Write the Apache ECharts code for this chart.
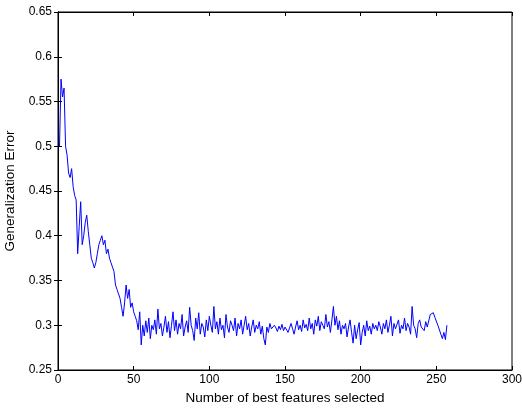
<!DOCTYPE html>
<html>
<head>
<meta charset="utf-8">
<script src="https://cdn.jsdelivr.net/npm/echarts@6/dist/echarts.min.js"></script>
<style>html,body{margin:0;padding:0;background:#fff;}#c{width:522px;height:411px;}</style>
</head>
<body>
<div id="c"></div>
<script>
var xTicks = [0, 50, 100, 150, 200, 250, 300];
var yTicks = [0.25, 0.3, 0.35, 0.4, 0.45, 0.5, 0.55, 0.6, 0.65];
var errEarly = [
  0.50, 0.575, 0.555, 0.565, 0.50, 0.49, 0.47, 0.465, 0.475, 0.455,
  0.445, 0.44, 0.38, 0.41, 0.438, 0.39, 0.40, 0.415, 0.423, 0.405,
  0.39, 0.375, 0.37, 0.364, 0.37, 0.38, 0.39, 0.395, 0.40, 0.39,
  0.395, 0.38, 0.385, 0.375, 0.37, 0.365, 0.36, 0.345, 0.34, 0.335,
  0.33, 0.32, 0.31, 0.325, 0.345, 0.33, 0.34, 0.32, 0.325, 0.315,
  0.31, 0.305, 0.295, 0.315, 0.278
];
var errLate = [
  0.300, 0.288, 0.305, 0.292, 0.308, 0.285, 0.300, 0.295, 0.306, 0.290,
  0.318, 0.296, 0.302, 0.288, 0.298, 0.310, 0.292, 0.304, 0.286, 0.300,
  0.315, 0.294, 0.306, 0.290, 0.302, 0.296, 0.312, 0.288, 0.298, 0.305,
  0.292, 0.320, 0.300, 0.294, 0.283, 0.308, 0.296, 0.314, 0.290, 0.302,
  0.298, 0.287, 0.306, 0.294, 0.310, 0.300, 0.292, 0.321, 0.296, 0.304,
  0.290, 0.308, 0.295, 0.300, 0.286, 0.312, 0.298, 0.292, 0.305, 0.300,
  0.294, 0.308, 0.288, 0.302, 0.296, 0.306, 0.290, 0.300, 0.310, 0.295,
  0.302, 0.288, 0.298, 0.306, 0.292, 0.300, 0.296, 0.304, 0.290, 0.299,
  0.285, 0.278, 0.298, 0.292, 0.302, 0.296, 0.294, 0.300, 0.297, 0.293,
  0.299, 0.295, 0.301, 0.294, 0.298, 0.300, 0.292, 0.297, 0.302, 0.296,
  0.290, 0.298, 0.305, 0.295, 0.300, 0.293, 0.306, 0.297, 0.301, 0.294,
  0.308, 0.296, 0.302, 0.290, 0.306, 0.299, 0.310, 0.294, 0.304, 0.300,
  0.296, 0.312, 0.298, 0.304, 0.292, 0.306, 0.321, 0.300, 0.310, 0.295,
  0.305, 0.290, 0.300, 0.296, 0.302, 0.287, 0.298, 0.306, 0.292, 0.280,
  0.300, 0.285, 0.295, 0.303, 0.278, 0.292, 0.300, 0.288, 0.305, 0.294,
  0.299, 0.290, 0.302, 0.296, 0.300, 0.294, 0.304, 0.298, 0.290, 0.302,
  0.296, 0.306, 0.292, 0.300, 0.310, 0.288, 0.302, 0.296, 0.298, 0.306,
  0.291, 0.300, 0.296, 0.308, 0.294, 0.302, 0.298, 0.290, 0.321, 0.300,
  0.296, 0.286, 0.302, 0.306, 0.298, 0.300, 0.294, 0.304, 0.298, 0.300,
  0.312, 0.310, 0.314, 0.309, 0.308, 0.300, 0.298, 0.290, 0.285, 0.292,
  0.284, 0.300
];
var errors = errEarly.concat(errLate);
var points = errors.map(function (v, i) { return [i + 1, v]; });

var font = 'Liberation Sans, Arial, sans-serif';
var chart = echarts.init(document.getElementById('c'));
var tickStyle = { show: true, inside: true, length: 4, lineStyle: { color: '#000', width: 1 } };
chart.setOption({
  animation: false,
  backgroundColor: '#fff',
  grid: { left: 58, right: 10, top: 12, bottom: 41, show: true, borderColor: '#000', borderWidth: 1,
          containLabel: false, outerBoundsMode: 'none' },
  xAxis: [{
    type: 'value', min: xTicks[0], max: xTicks[xTicks.length - 1], interval: 50,
    name: 'Number of best features selected', nameLocation: 'middle', nameGap: 20,
    nameTextStyle: { color: '#000', fontFamily: font, fontSize: 13.5 },
    axisLine: { show: true, lineStyle: { color: '#000' } },
    axisTick: tickStyle,
    axisLabel: { color: '#000', fontFamily: font, fontSize: 12, margin: 4 },
    splitLine: { show: false }
  }, {
    type: 'value', position: 'top', min: xTicks[0], max: xTicks[xTicks.length - 1], interval: 50,
    axisLine: { show: true, lineStyle: { color: '#000' } },
    axisTick: tickStyle, axisLabel: { show: false }, splitLine: { show: false }
  }],
  yAxis: [{
    type: 'value', min: yTicks[0], max: yTicks[yTicks.length - 1], interval: 0.05,
    name: 'Generalization Error', nameLocation: 'middle', nameGap: 37,
    nameTextStyle: { color: '#000', fontFamily: font, fontSize: 13.5 },
    axisLine: { show: true, lineStyle: { color: '#000' } },
    axisTick: tickStyle,
    axisLabel: { color: '#000', fontFamily: font, fontSize: 12, margin: 6 },
    splitLine: { show: false }
  }, {
    type: 'value', position: 'right', min: yTicks[0], max: yTicks[yTicks.length - 1], interval: 0.05,
    axisLine: { show: true, lineStyle: { color: '#000' } },
    axisTick: tickStyle, axisLabel: { show: false }, splitLine: { show: false }
  }],
  series: [{
    type: 'line', data: points, showSymbol: false, symbol: 'none',
    lineStyle: { color: '#0000ff', width: 1 }, xAxisIndex: 0, yAxisIndex: 0
  }]
});
</script>
</body>
</html>
